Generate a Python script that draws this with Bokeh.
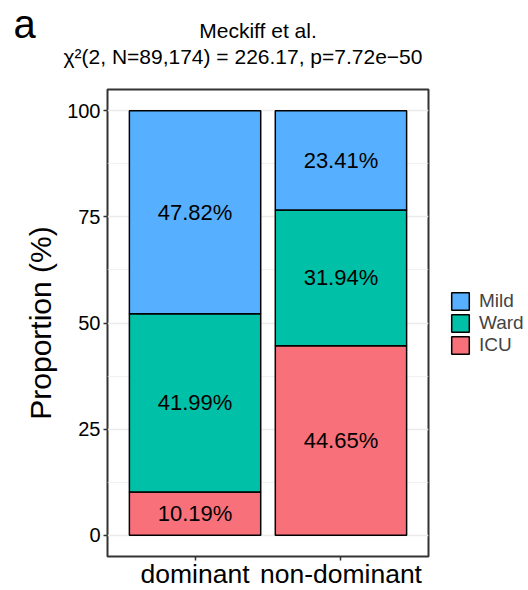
import numpy as np
from bokeh.plotting import figure
from bokeh.models import (FactorRange, Range1d, FixedTicker, Label, Legend,
                          LegendItem, ColumnDataSource)
from bokeh.core.properties import value
from bokeh.embed import file_html
from bokeh.resources import INLINE

# ---- data ----
groups = ["dominant", "non-dominant"]
levels = ["ICU", "Ward", "Mild"]          # stacked bottom -> top
icu = [10.19, 44.65]
ward = [41.99, 31.94]
mild = [47.82, 23.41]
legend_order = ["Mild", "Ward", "ICU"]
y_ticks = [0, 25, 50, 75, 100]
y_minor = [12.5, 37.5, 62.5, 87.5]
title_text = "Meckiff et al."
subtitle_text = "χ²(2, N=89,174) = 226.17, p=7.72e−50"
panel_tag = "a"
y_label = "Proportion (%)"

colors = {"ICU": "#F8707A", "Ward": "#00C1A8", "Mild": "#57B0FF"}
FONT = "Liberation Sans"

# ---- main plot ----
src = ColumnDataSource(dict(group=groups, ICU=icu, Ward=ward, Mild=mild))
FW, FH = 321, 467
p = figure(x_range=FactorRange(factors=groups, range_padding=0.1),
           y_range=Range1d(-5, 105),
           frame_width=FW, frame_height=FH,
           min_border_left=107, min_border_right=100,
           min_border_top=89, min_border_bottom=34,
           output_backend="svg", toolbar_location=None, tools="")
p.title.visible = False
p.background_fill_color = "white"
p.border_fill_color = "white"
p.outline_line_color = "#333333"
p.outline_line_width = 2

renderers = p.vbar_stack(levels, x="group", width=0.9, source=src,
                         fill_color=[colors[l] for l in levels],
                         line_color="black", line_width=1.5)

# segment labels
vals = np.array([icu, ward, mild])
tops = np.cumsum(vals, axis=0)
mids = tops - vals / 2
lab_x, lab_y, lab_t = [], [], []
for i in range(len(levels)):
    for j, g in enumerate(groups):
        lab_x.append(g)
        lab_y.append(float(mids[i, j]))
        lab_t.append(f"{vals[i, j]:.2f}%")
lab_src = ColumnDataSource(dict(x=lab_x, y=lab_y, text=lab_t))
p.text(x="x", y="y", text="text", source=lab_src, text_align="center",
       text_baseline="middle", text_font=value(FONT), text_font_size="22px",
       text_color="black")

# grid
p.xgrid.grid_line_color = None
p.ygrid.ticker = FixedTicker(ticks=y_ticks, minor_ticks=y_minor)
p.ygrid.grid_line_color = "#EBEBEB"
p.ygrid.grid_line_width = 1.3
p.ygrid.minor_grid_line_color = "#EBEBEB"
p.ygrid.minor_grid_line_width = 0.7

# axes
p.yaxis.ticker = FixedTicker(ticks=y_ticks, minor_ticks=y_minor)
for ax in (p.xaxis[0], p.yaxis[0]):
    ax.axis_line_color = None
    ax.major_tick_line_color = "#333333"
    ax.major_tick_line_width = 1.5
    ax.major_tick_out = 4
    ax.major_tick_in = 0
    ax.minor_tick_line_color = None
    ax.major_label_text_font = FONT
    ax.major_label_text_color = "black"
p.yaxis.major_label_text_font_size = "20px"
p.yaxis.major_label_standoff = 3
p.xaxis.major_label_text_font_size = "26.5px"
p.xaxis.major_label_standoff = -2
p.yaxis.axis_label = y_label
p.yaxis.axis_label_text_font = FONT
p.yaxis.axis_label_text_font_size = "30px"
p.yaxis.axis_label_text_font_style = "normal"
p.yaxis.axis_label_text_color = "black"
p.yaxis.axis_label_standoff = 7

# titles: labels living in a side panel (not clipped to the frame),
# positioned in canvas pixels
for txt, x, y, size, align in [(title_text, 257.5, 30, "21px", "center"),
                               (subtitle_text, 242.5, 55.5, "21px", "center"),
                               (panel_tag, 13, 23, "40px", "left")]:
    p.add_layout(Label(x=x, y=y, x_units="canvas", y_units="canvas",
                       text=txt, text_align=align, text_baseline="alphabetic",
                       text_font=FONT, text_font_size=size, text_color="black"),
                 "below")

# legend
rmap = dict(zip(levels, renderers))
legend = Legend(items=[LegendItem(label=l, renderers=[rmap[l]]) for l in legend_order],
                location=(21, 200), orientation="vertical",
                glyph_width=22, glyph_height=22, spacing=0, padding=0, margin=0,
                border_line_color=None, background_fill_alpha=0,
                label_text_font=FONT, label_text_font_size="19px",
                label_standoff=8, label_height=22)
p.add_layout(legend, "right")

open("out.html", "w").write(file_html(p, INLINE))
